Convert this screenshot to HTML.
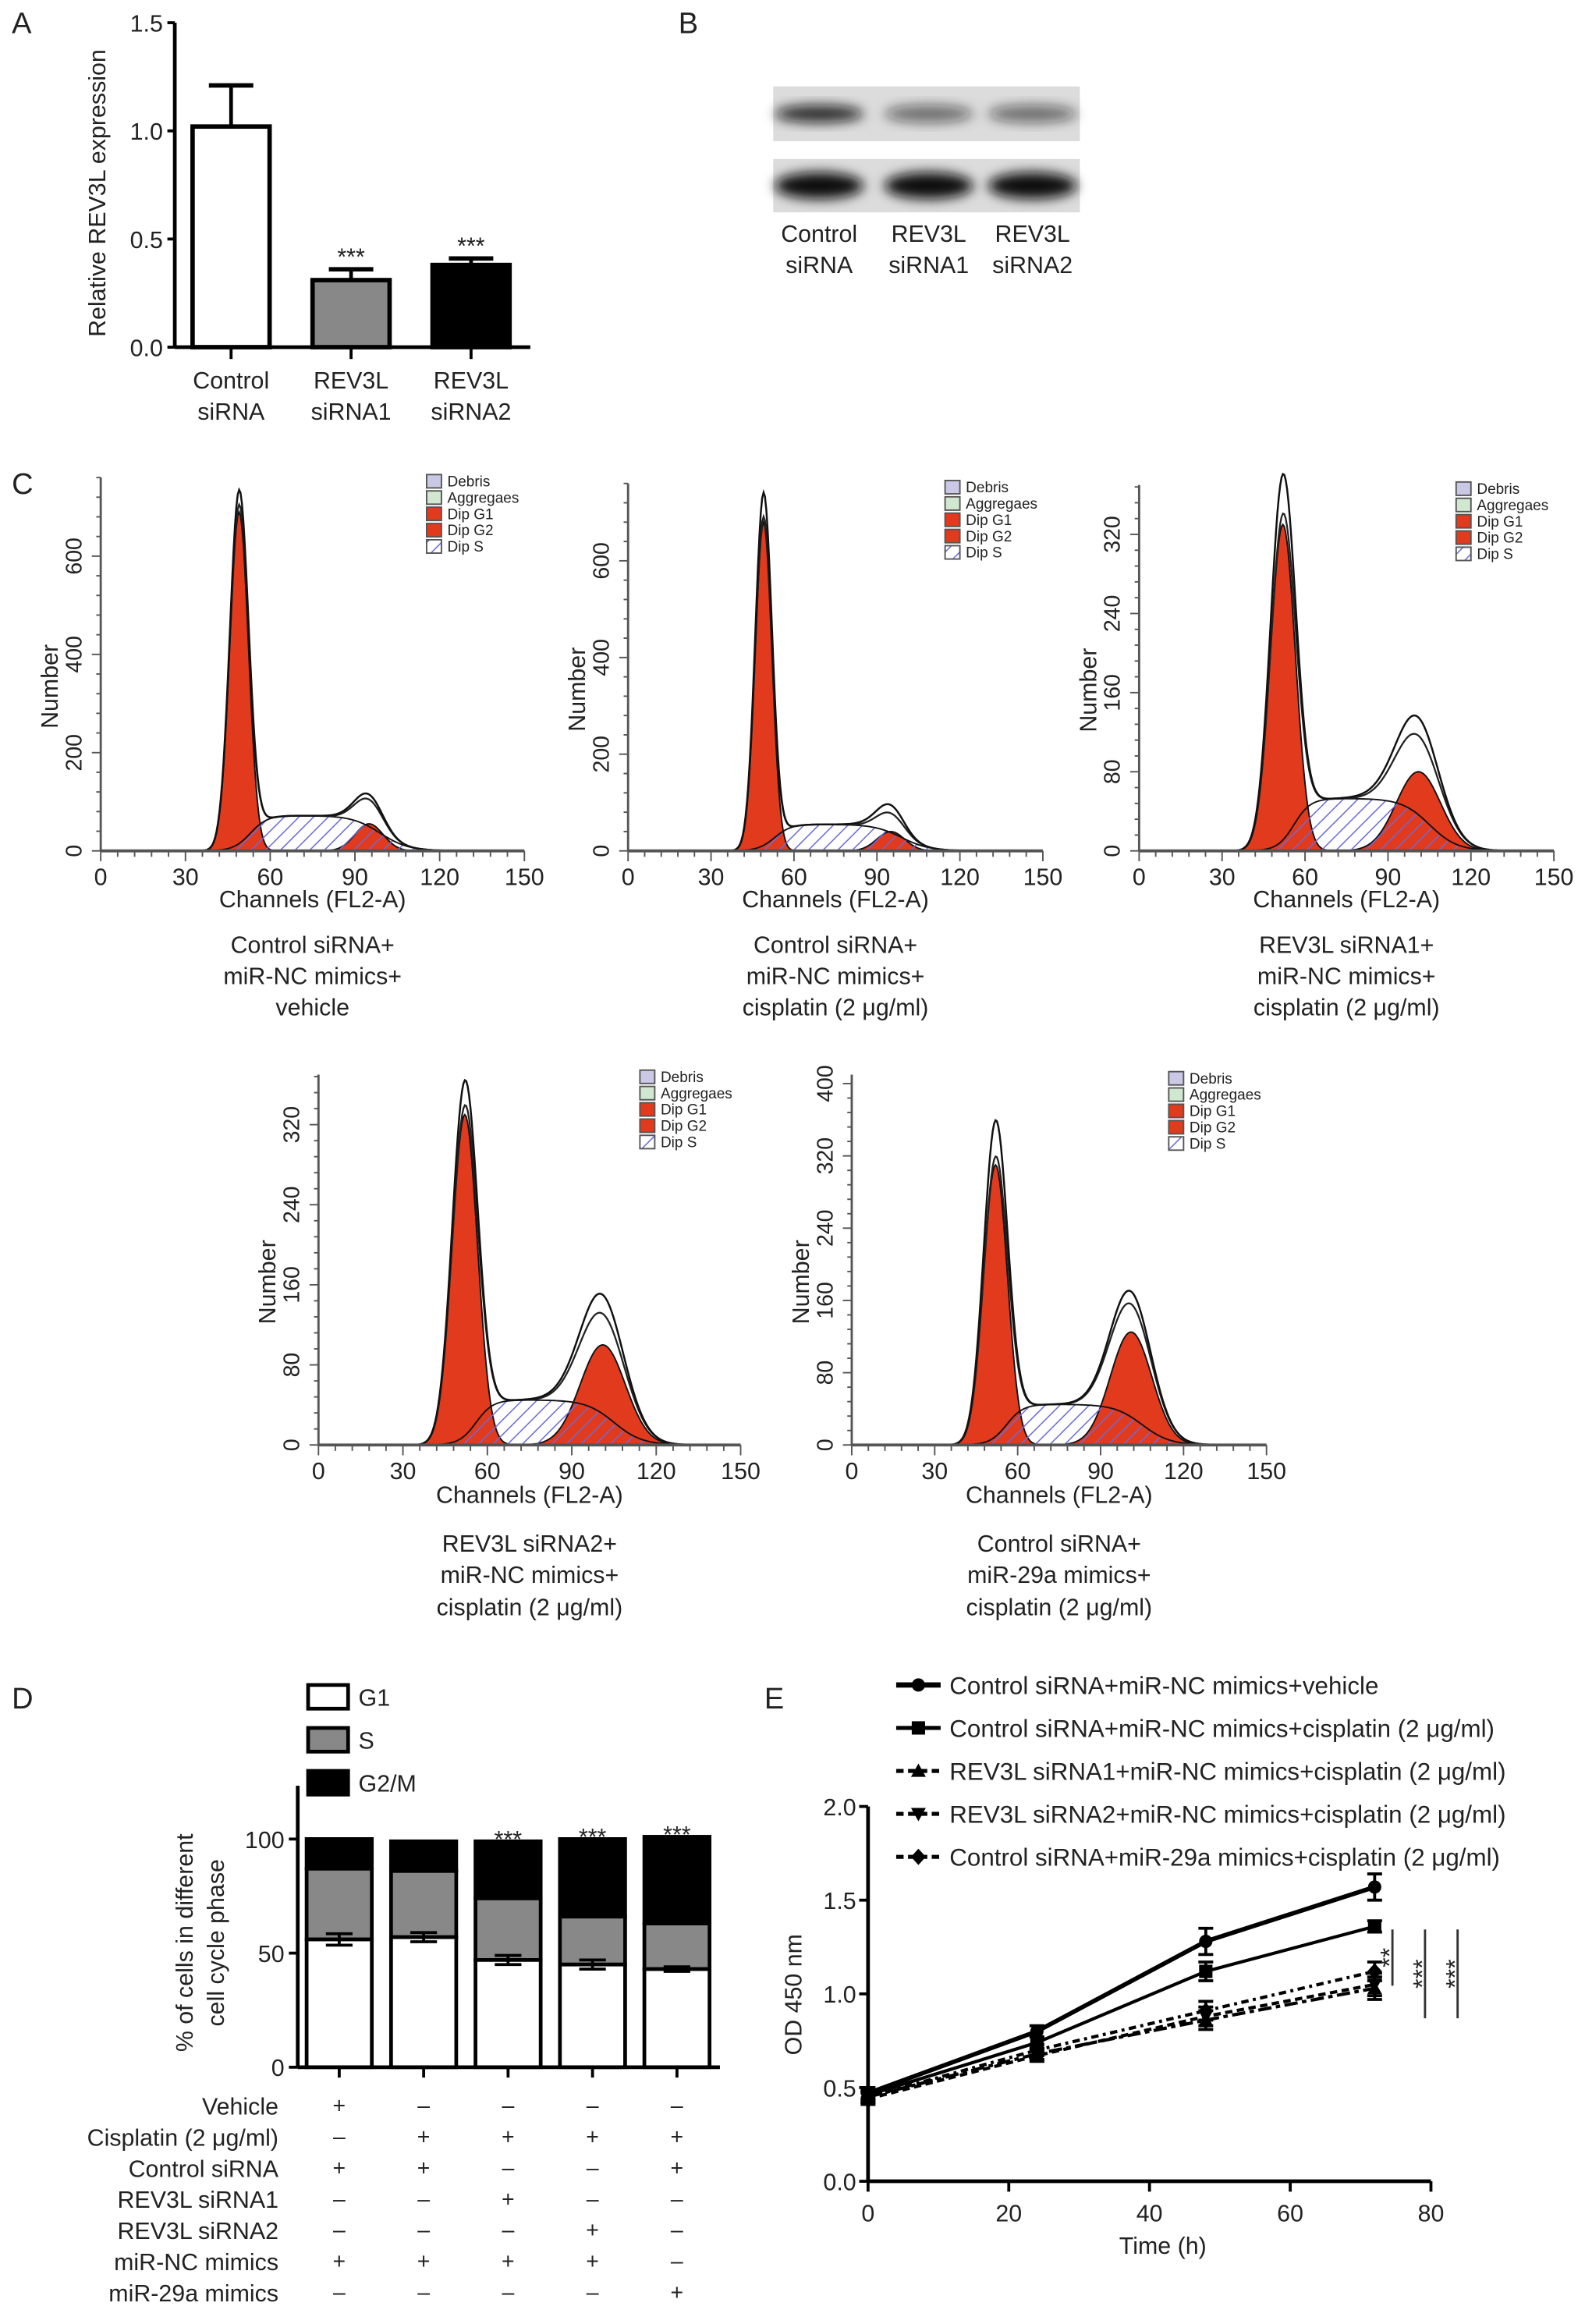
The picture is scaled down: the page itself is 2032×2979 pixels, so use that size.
<!DOCTYPE html>
<html><head><meta charset="utf-8">
<style>
html,body{margin:0;padding:0;background:#fff;}
svg{display:block;}
text{font-family:"Liberation Sans",Arial,sans-serif;fill:#222;}
</style></head>
<body>
<svg id="fig" xmlns="http://www.w3.org/2000/svg" width="2032" height="2979" viewBox="0 0 1070 1568">
<defs>
<pattern id="hatch" patternUnits="userSpaceOnUse" width="7" height="7" patternTransform="rotate(45)">
<line x1="0" y1="0" x2="0" y2="7" stroke="#6a6ad8" stroke-width="1.6"/>
</pattern>
<filter id="blur" x="-20%" y="-50%" width="140%" height="200%"><feGaussianBlur stdDeviation="4"/></filter>
</defs>
<g id="root"></g>
</svg>
<script>
// ---------- Panel A data ----------
const aCats = [["Control","siRNA"],["REV3L","siRNA1"],["REV3L","siRNA2"]];
const aVals = [1.02, 0.31, 0.38];
const aErrs = [0.19, 0.05, 0.03];
const aTicks = [0, 0.5, 1.0, 1.5];
const aFills = ["#fff","#888","#000"];
// ---------- Panel C data (per histogram) ----------
const cG1Mean = [49, 49, 52, 52, 52];
const cG1Fit = [690, 680, 330, 330, 310];
const cG1Raw = [720, 730, 370, 355, 350];
const cG1Sd = [3.3, 3.0, 4.5, 4.5, 4.3];
const cG2Mean = [95, 95, 101, 101, 101];
const cG2Fit = [55, 40, 80, 100, 125];
const cG2Raw = [115, 95, 135, 150, 170];
const cG2Sd = [5, 5, 8, 8, 7.5];
const cSHeight = [72, 55, 53, 45, 45];
const cYTicks = [[0,200,400,600],[0,200,400,600],[0,80,160,240,320],[0,80,160,240,320],[0,80,160,240,320,400]];
const cYMax = [760, 760, 370, 370, 410];
const cXTicks = [0,30,60,90,120,150];
const cCaptions = [
 ["Control siRNA+","miR-NC mimics+","vehicle"],
 ["Control siRNA+","miR-NC mimics+","cisplatin (2 \u03bcg/ml)"],
 ["REV3L siRNA1+","miR-NC mimics+","cisplatin (2 \u03bcg/ml)"],
 ["REV3L siRNA2+","miR-NC mimics+","cisplatin (2 \u03bcg/ml)"],
 ["Control siRNA+","miR-29a mimics+","cisplatin (2 \u03bcg/ml)"]];
// ---------- Panel D data ----------
const dG1 = [56, 57, 47, 45, 43];
const dS = [31, 29, 27, 21, 20];
const dG2 = [13, 13, 25, 34, 38];
const dG1Err = [2.5, 2, 2, 2, 1];
const dTicks = [0, 50, 100];
const dStars = [false, false, true, true, true];
const dRows = ["Vehicle","Cisplatin (2 \u03bcg/ml)","Control siRNA","REV3L siRNA1","REV3L siRNA2","miR-NC mimics","miR-29a mimics"];
const dSigns = [["+","\u2013","\u2013","\u2013","\u2013"],["\u2013","+","+","+","+"],["+","+","\u2013","\u2013","+"],["\u2013","\u2013","+","\u2013","\u2013"],["\u2013","\u2013","\u2013","+","\u2013"],["+","+","+","+","\u2013"],["\u2013","\u2013","\u2013","\u2013","+"]];
// ---------- Panel E data ----------
const eTimes = [0, 24, 48, 72];
const eS1 = [0.47, 0.80, 1.28, 1.57];
const eS2 = [0.46, 0.74, 1.12, 1.36];
const eS3 = [0.45, 0.68, 0.86, 1.03];
const eS4 = [0.44, 0.67, 0.88, 1.05];
const eS5 = [0.45, 0.70, 0.91, 1.12];
const eErr = [[0.03,0.03,0.07,0.07],[0.03,0.03,0.05,0.03],[0.03,0.03,0.05,0.06],[0.03,0.03,0.05,0.06],[0.03,0.03,0.05,0.05]];
const eLabels = ["Control siRNA+miR-NC mimics+vehicle","Control siRNA+miR-NC mimics+cisplatin (2 \u03bcg/ml)","REV3L siRNA1+miR-NC mimics+cisplatin (2 \u03bcg/ml)","REV3L siRNA2+miR-NC mimics+cisplatin (2 \u03bcg/ml)","Control siRNA+miR-29a mimics+cisplatin (2 \u03bcg/ml)"];
const eXTicks = [0,20,40,60,80];
const eYTicks = [0,0.5,1.0,1.5,2.0];

const NS="http://www.w3.org/2000/svg";
const root=document.getElementById('root');
function mk(tag,attrs,parent){const e=document.createElementNS(NS,tag);for(const k in attrs)e.setAttribute(k,attrs[k]);(parent||root).appendChild(e);return e;}
function txt(s,x,y,size,anchor,parent,extra){const t=mk('text',Object.assign({x:x,y:y,'font-size':size,'text-anchor':anchor||'middle'},extra||{}),parent);t.textContent=s;return t;}
function grp(name){const g=mk('g',{});return g;}

// ===== Panel A =====
(function(){
 const g=grp('panel-a');
 let t=txt('A',8,22,20,'start',g);
 const ax=118, y0=234, yTop=15, vmax=1.5;
 const Y=v=>y0-(v/vmax)*(y0-yTop);
 const cx=[156,237,318], bw=52;
 let l=mk('line',{x1:ax,y1:yTop,x2:ax,y2:y0,stroke:'#000','stroke-width':2.5},g);
 l=mk('line',{x1:ax,y1:y0,x2:358,y2:y0,stroke:'#000','stroke-width':2.5},g);
 aTicks.forEach(v=>{mk('line',{x1:ax-5,y1:Y(v),x2:ax,y2:Y(v),stroke:'#000','stroke-width':2},g);
  const tt=txt(v.toFixed(1),ax-8,Y(v)+6,16,'end',g);});
 t=txt('Relative REV3L expression',0,0,16,'middle',g,{transform:'translate(71,130) rotate(-90)'});
 aVals.forEach((v,i)=>{
  const e=mk('line',{x1:cx[i],y1:Y(v),x2:cx[i],y2:Y(v+aErrs[i]),stroke:'#000','stroke-width':2.5},g);
  mk('line',{x1:cx[i]-15,y1:Y(v+aErrs[i]),x2:cx[i]+15,y2:Y(v+aErrs[i]),stroke:'#000','stroke-width':3},g);
  const r=mk('rect',{x:cx[i]-bw/2,y:Y(v),width:bw,height:y0-Y(v),fill:aFills[i],stroke:'#000','stroke-width':3},g);
  mk('line',{x1:cx[i],y1:y0,x2:cx[i],y2:y0+8,stroke:'#000','stroke-width':2},g);
  const c1=txt(aCats[i][0],cx[i],262,16,'middle',g);
  txt(aCats[i][1],cx[i],283,16,'middle',g);
  if(i>0){const s=txt('***',cx[i],Y(v+aErrs[i])-3,16,'middle',g,{fill:'#666'});}
 });
})();

// ===== Panel B (western blot) =====
(function(){
 const g=grp('panel-b');
 let t=txt('B',458,22,20,'start',g);
 const bands=[[553,627,697],[553,627,697]];
 const top=[[0.85,0.55,0.55],[1,1,1]];
 [[58,95],[107,143]].forEach((yy,r)=>{
  const box=mk('rect',{x:522,y:yy[0],width:207,height:yy[1]-yy[0],fill:'#dcdcdc'},g);
  bands[r].forEach((bx,i)=>{const b=mk('ellipse',{cx:bx,cy:(yy[0]+yy[1])/2,rx:30,ry:r?9:6,fill:'#111','fill-opacity':top[r][i],filter:'url(#blur)'},g);});
 });
 [["Control","siRNA"],["REV3L","siRNA1"],["REV3L","siRNA2"]].forEach((c,i)=>{const a=txt(c[0],bands[0][i],163,16,'middle',g);txt(c[1],bands[0][i],184,16,'middle',g);});
})();

// ===== Panel C (histograms) =====
const cLayout=[
 {x0:68,x1:354,base:574,top:322,leg:[288,320],cap:[612,638,659,680]},
 {x0:424,x1:704,base:574,top:326,leg:[638,324],cap:[612,638,659,680]},
 {x0:769,x1:1049,base:574,top:327,leg:[983,325],cap:[612,638,659,680]},
 {x0:215,x1:500,base:975,top:725,leg:[432,722],cap:[1014,1042,1063,1085]},
 {x0:575,x1:855,base:975,top:725,leg:[789,723],cap:[1014,1042,1063,1085]}];
(function(){
 let t=txt('C',8,333,20,'start');
 const sig=z=>1/(1+Math.exp(-z));
 cLayout.forEach((L,h)=>{
  const g=grp('histogram-'+(h+1));
  const X=c=>L.x0+c*(L.x1-L.x0)/150;
  const k=(L.base-L.top)/cYMax[h];
  const Y=v=>L.base-v*k;
  const g1=c=>cG1Fit[h]*Math.exp(-0.5*Math.pow((c-cG1Mean[h])/cG1Sd[h],2));
  const g2=c=>cG2Fit[h]*Math.exp(-0.5*Math.pow((c-cG2Mean[h])/cG2Sd[h],2));
  const sp=c=>cSHeight[h]*sig((c-cG1Mean[h]-4)/3)*sig((cG2Mean[h]+4-c)/5);
  const chans=[];for(let c=25;c<=145;c+=0.5)chans.push(c);
  const area=f=>'M'+X(25)+','+L.base+' '+chans.map(c=>'L'+X(c).toFixed(2)+','+Y(f(c)).toFixed(2)).join(' ')+' L'+X(145)+','+L.base+'Z';
  const line=f=>'M'+chans.map(c=>X(c).toFixed(2)+','+Y(f(c)).toFixed(2)).join(' L');
  let p=mk('path',{d:area(g1),fill:'#e23a1c',stroke:'#111','stroke-width':1},g);
  p=mk('path',{d:area(g2),fill:'#e23a1c',stroke:'#111','stroke-width':1},g);
  p=mk('path',{d:area(sp),fill:'url(#hatch)',stroke:'#111','stroke-width':1},g);
  const r1=cG1Raw[h]/cG1Fit[h];
  const fitAtG2=cG2Fit[h]+sp(cG2Mean[h]);
  const r2=cG2Raw[h]/fitAtG2;
  p=mk('path',{d:line(c=>g1(c)+g2(c)+sp(c)),fill:'none',stroke:'#222','stroke-width':1.2},g);
  p=mk('path',{d:line(c=>g1(c)*r1+(g2(c)+sp(c))*(1+(r2-1)*Math.exp(-0.5*Math.pow((c-cG2Mean[h])/(cG2Sd[h]*1.5),2)))),fill:'none',stroke:'#111','stroke-width':1.3},g);
  // axes
  let a=mk('line',{x1:L.x0,y1:L.top,x2:L.x0,y2:L.base,stroke:'#555','stroke-width':1.5},g);
  a=mk('line',{x1:L.x0,y1:L.base,x2:L.x1,y2:L.base,stroke:'#555','stroke-width':2},g);
  const ystep=cYTicks[h][1]/5;
  for(let v=0;v<=cYMax[h];v+=ystep){mk('line',{x1:L.x0-(v%cYTicks[h][1]===0?6:3),y1:Y(v),x2:L.x0,y2:Y(v),stroke:'#555','stroke-width':1},g);}
  cYTicks[h].forEach(v=>{const tt=txt(String(v),0,0,15,'middle',g,{transform:'translate('+(L.x0-13)+','+Y(v)+') rotate(-90)'});});
  for(let c=0;c<=150;c+=6){mk('line',{x1:X(c),y1:L.base,x2:X(c),y2:L.base+(c%30===0?7:4),stroke:'#555','stroke-width':1},g);}
  cXTicks.forEach(c=>{const tt=txt(String(c),X(c),L.base+23,16,'middle',g);});
  t=txt('Number',0,0,16,'middle',g,{transform:'translate('+(L.x0-29)+','+((L.base+L.top)/2+15)+') rotate(-90)'});
  const mid=(L.x0+L.x1)/2;
  t=txt('Channels (FL2-A)',mid,L.cap[0],16,'middle',g);
  cCaptions[h].forEach((s,i)=>{const c=txt(s,mid,L.cap[i+1]+5,16,'middle',g);});
  // legend
  const lg=grp('histogram-legend');g.appendChild(lg);
  const names=['Debris','Aggregaes','Dip G1','Dip G2','Dip S'];
  const fills=['#c9c9e6','#cfe8cf','#e23a1c','#e23a1c','url(#hatch)'];
  names.forEach((n,i)=>{const yy=L.leg[1]+i*11;
   const b=mk('rect',{x:L.leg[0],y:yy,width:10,height:9,fill:fills[i],stroke:'#555','stroke-width':1},lg);
   const tt=txt(n,L.leg[0]+14,yy+8,10,'start',lg,{fill:'#2a2ae6'});});
 });
})();

// ===== Panel D =====
(function(){
 const g=grp('panel-d');
 let t=txt('D',8,1153,20,'start',g);
 const ax=201,y0=1395,yTop=1205;
 const Y=v=>y0-v*1.54;
 const cx=[229,286,343,400,457],bw=44;
 [['G1','#fff',1137],['S','#888',1166],['G2/M','#000',1195]].forEach(e=>{
  const r=mk('rect',{x:208,y:e[2],width:27,height:16,fill:e[1],stroke:'#000','stroke-width':2.5},g);
  const tt=txt(e[0],242,e[2]+14,16,'start',g);});
 dG1.forEach((v,i)=>{
  const x=cx[i]-bw/2;
  const top=v+dS[i]+dG2[i];
  let r=mk('rect',{x:x,y:Y(top),width:bw,height:Y(v+dS[i])-Y(top),fill:'#000',stroke:'#000','stroke-width':2.5},g);
  r=mk('rect',{x:x,y:Y(v+dS[i]),width:bw,height:Y(v)-Y(v+dS[i]),fill:'#888',stroke:'#000','stroke-width':2.5},g);
  r=mk('rect',{x:x,y:Y(v),width:bw,height:y0-Y(v),fill:'#fff',stroke:'#000','stroke-width':2.5},g);
  const e=mk('path',{d:'M'+(cx[i]-9)+','+Y(v+dG1Err[i])+'H'+(cx[i]+9)+'M'+cx[i]+','+Y(v+dG1Err[i])+'V'+Y(v-dG1Err[i])+'M'+(cx[i]-9)+','+Y(v-dG1Err[i])+'H'+(cx[i]+9),stroke:'#000','stroke-width':2,fill:'none'},g);
  mk('line',{x1:cx[i],y1:y0,x2:cx[i],y2:y0+7,stroke:'#000','stroke-width':2},g);
  if(dStars[i]){const s=txt('***',cx[i],Y(top)+4,16,'middle',g,{fill:'#666'});}
 });
 let a=mk('line',{x1:ax,y1:yTop,x2:ax,y2:y0,stroke:'#000','stroke-width':2.5},g);
 a=mk('line',{x1:ax,y1:y0,x2:486,y2:y0,stroke:'#000','stroke-width':2.5},g);
 dTicks.forEach(v=>{mk('line',{x1:ax-6,y1:Y(v),x2:ax,y2:Y(v),stroke:'#000','stroke-width':2},g);const tt=txt(String(v),ax-9,Y(v)+6,16,'end',g);});
 t=txt('% of cells in different',0,0,16,'middle',g,{transform:'translate(130,1311) rotate(-90)'});
 txt('cell cycle phase',0,0,16,'middle',g,{transform:'translate(151,1311) rotate(-90)'});
 dRows.forEach((rw,j)=>{const yy=1427+j*21;const tt=txt(rw,188,yy,16,'end',g);
  dSigns[j].forEach((s,i)=>{const st=txt(s,cx[i],yy-1,15,'middle',g,{fill:'#444'});});});
})();

// ===== Panel E =====
(function(){
 const g=grp('panel-e');
 let t=txt('E',516,1153,20,'start',g);
 const ax=586,y0=1472;
 const X=h=>ax+h*4.75;
 const Y=v=>y0-v*126.5;
 let a=mk('line',{x1:ax,y1:Y(2),x2:ax,y2:y0,stroke:'#000','stroke-width':2.5},g);
 a=mk('line',{x1:ax,y1:y0,x2:X(80),y2:y0,stroke:'#000','stroke-width':2.5},g);
 eYTicks.forEach(v=>{mk('line',{x1:ax-6,y1:Y(v),x2:ax,y2:Y(v),stroke:'#000','stroke-width':2},g);const tt=txt(v.toFixed(1),ax-8,Y(v)+6,16,'end',g);});
 eXTicks.forEach(v=>{mk('line',{x1:X(v),y1:y0,x2:X(v),y2:y0+7,stroke:'#000','stroke-width':2},g);const tt=txt(String(v),X(v),y0+27,16,'middle',g);});
 t=txt('OD 450 nm',0,0,16,'middle',g,{transform:'translate(541,1346) rotate(-90)'});
 t=txt('Time (h)',785,1521,16,'middle',g);
 const series=[eS1,eS2,eS3,eS4,eS5];
 const dashes=['none','none','9,3,3,3','5,3','5,3,2,3'];
 const widths=[3,2.2,2.2,2.2,2.2];
 const marker=(type,x,y,par)=>{let m;
  if(type===0)m=mk('circle',{cx:x,cy:y,r:4.5,fill:'#000'},par);
  else if(type===1)m=mk('rect',{x:x-4.5,y:y-4.5,width:9,height:9,fill:'#000'},par);
  else if(type===2)m=mk('path',{d:'M'+x+','+(y-5)+'L'+(x+5)+','+(y+4)+'L'+(x-5)+','+(y+4)+'Z',fill:'#000'},par);
  else if(type===3)m=mk('path',{d:'M'+x+','+(y+5)+'L'+(x+5)+','+(y-4)+'L'+(x-5)+','+(y-4)+'Z',fill:'#000'},par);
  else m=mk('path',{d:'M'+x+','+(y-5.5)+'L'+(x+5)+','+y+'L'+x+','+(y+5.5)+'L'+(x-5)+','+y+'Z',fill:'#000'},par);
  return m;};
 series.forEach((s,si)=>{
  const sg=grp('series-'+(si+1));g.appendChild(sg);
  const p=mk('path',{d:'M'+s.map((v,i)=>X(eTimes[i])+','+Y(v)).join(' L'),fill:'none',stroke:'#000','stroke-width':widths[si],'stroke-dasharray':dashes[si]},sg);
  s.forEach((v,i)=>{const x=X(eTimes[i]),er=eErr[si][i];
   const e=mk('path',{d:'M'+(x-5)+','+Y(v+er)+'H'+(x+5)+'M'+x+','+Y(v+er)+'V'+Y(v-er)+'M'+(x-5)+','+Y(v-er)+'H'+(x+5),stroke:'#000','stroke-width':2,fill:'none'},sg);
   const m=marker(si,x,Y(v),sg);});
  const ly=1137+si*29;
  const ll=mk('line',{x1:605,y1:ly,x2:635,y2:ly,stroke:'#000','stroke-width':widths[si]+0.5,'stroke-dasharray':dashes[si]==='none'?'none':'5,3'},sg);
  const lm=marker(si,620,ly,sg);
  const lt=txt(eLabels[si],641,ly+6,16.5,'start',sg);
 });
 [[940,1302,1340,'**'],[962,1302,1362,'***'],[984,1302,1362,'***']].forEach(b=>{
  const l=mk('line',{x1:b[0],y1:b[1],x2:b[0],y2:b[2],stroke:'#333','stroke-width':1.5},g);
  const s=txt(b[3],0,0,17,'middle',g,{fill:'#666',transform:'translate('+(b[0]+4)+','+((b[1]+b[2])/2)+') rotate(-90)'});});
})();
</script>
</body></html>
